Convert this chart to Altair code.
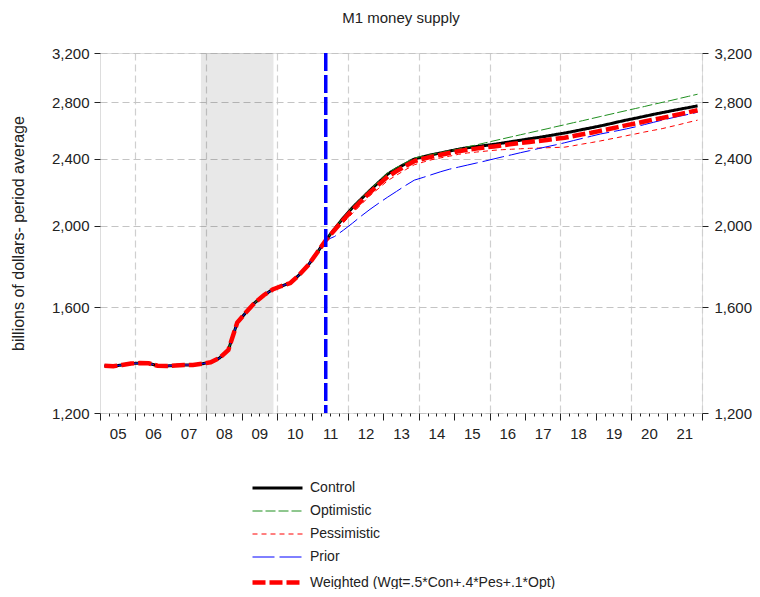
import altair as alt
import pandas as pd

FONT = "Liberation Sans, Arial, sans-serif"

# ---- data (quarterly, 2005Q1 .. 2021Q4) ----
first_year = 2005
history = [1365, 1363, 1368, 1373, 1375, 1374, 1365, 1364, 1366, 1368, 1368, 1372,
           1378, 1394, 1425, 1535, 1579, 1621, 1654, 1680, 1696, 1710, 1748, 1794,
           1856, 1921]
control_fc = [1982, 2043, 2099, 2150, 2201, 2251, 2301, 2335, 2366, 2397, 2412, 2426,
              2437, 2450, 2462, 2472, 2480, 2487, 2495, 2504, 2514, 2523, 2533, 2542,
              2552, 2563, 2573, 2585, 2598, 2610, 2623, 2637, 2652, 2666, 2679, 2693,
              2707, 2720, 2733, 2746, 2758, 2771]
optimistic_fc = [1983, 2045, 2102, 2154, 2206, 2257, 2308, 2342, 2373, 2403, 2417, 2428,
                 2440, 2452, 2464, 2478, 2491, 2505, 2519, 2533, 2547, 2561, 2575, 2589,
                 2603, 2618, 2632, 2647, 2661, 2676, 2691, 2706, 2721, 2736, 2751, 2766,
                 2782, 2797, 2812, 2828, 2844, 2860]
pessimistic_fc = [1967, 2016, 2066, 2118, 2170, 2214, 2260, 2294, 2328, 2360, 2377, 2393,
                  2405, 2416, 2428, 2437, 2443, 2449, 2455, 2459, 2462, 2465, 2468, 2470,
                  2472, 2474, 2476, 2486, 2497, 2507, 2518, 2530, 2542, 2555, 2567, 2580,
                  2592, 2604, 2619, 2634, 2650, 2665]
prior_fc = [1941, 1975, 2012, 2052, 2090, 2126, 2161, 2195, 2230, 2263, 2280, 2298,
            2316, 2332, 2345, 2358, 2371, 2384, 2398, 2412, 2425, 2439, 2452, 2466,
            2479, 2492, 2506, 2521, 2536, 2551, 2566, 2578, 2590, 2603, 2617, 2633,
            2649, 2665, 2680, 2694, 2708, 2723]
weighted_fc = [1976, 2032, 2086, 2138, 2189, 2237, 2285, 2319, 2352, 2383, 2399, 2413,
               2425, 2437, 2449, 2459, 2466, 2474, 2481, 2489, 2497, 2504, 2511, 2518,
               2525, 2533, 2540, 2552, 2564, 2575, 2588, 2601, 2615, 2629, 2641, 2655,
               2669, 2681, 2695, 2709, 2723, 2738]

series_names = ["Control", "Optimistic", "Pessimistic", "Prior",
                "Weighted (Wgt=.5*Con+.4*Pes+.1*Opt)"]
series_colors = ["#000000", "#1f8f1f", "#ff0000", "#0000ff", "#ff0000"]
series_dashes = [[1, 0], [10, 3], [5, 4], [22, 5], [13, 4]]
series_widths = [3, 1, 1, 1, 4.5]

recession_start = [2007.85]
recession_end = [2009.9]
forecast_line = [2011.375]
y_ticks = [1200, 1600, 2000, 2400, 2800, 3200]
y_domain = [1200, 3200]
x_domain = [2005, 2022]

rows = []
for name, fc in zip(series_names,
                    [control_fc, optimistic_fc, pessimistic_fc, prior_fc, weighted_fc]):
    for q, v in enumerate(history + fc):
        rows.append({"t": first_year + 0.125 + 0.25 * q, "v": v, "series": name})
df = pd.DataFrame(rows)

rec_df = pd.DataFrame({"start": recession_start, "end": recession_end,
                       "lo": [y_domain[0]], "hi": [y_domain[1]]})
vline_df = pd.DataFrame({"t": forecast_line})

quarter_ticks = [x_domain[0] + 0.25 * i for i in range(int((x_domain[1] - x_domain[0]) * 4) + 1)]

x_axis = alt.Axis(
    values=quarter_ticks,
    labelExpr="datum.value % 1 == 0.5 ? slice(toString(floor(datum.value)), 2) : ''",
    tickSize={"condition": {"test": "datum.value % 1 == 0", "value": 7}, "value": 3},
    grid=True,
    gridOpacity={"condition": {"test": "datum.value % 2 == 0", "value": 1}, "value": 0},
    gridDash=[7, 4], gridColor="#cfcfcf", gridWidth=1.2,
    title=None, domain=False, tickColor="#222", labelPadding=10,
    labelFont=FONT, labelFontSize=15, labelColor="#222", labelFlush=False,
    labelOverlap=False,
)
x_scale = alt.Scale(domain=x_domain, nice=False, zero=False)
y_scale = alt.Scale(type="log", domain=y_domain, nice=False, zero=False)

left_axis = alt.Axis(values=y_ticks, format=",", title="billions of dollars- period average",
                     grid=True, gridDash=[7, 4], gridColor="#c4c4c4", gridWidth=1.2,
                     tickSize=6, tickColor="#222", domain=False, labelPadding=5,
                     labelFont=FONT, labelFontSize=15, labelColor="#222",
                     titleFont=FONT, titleFontSize=16, titleFontWeight="normal",
                     titleColor="#222", titlePadding=25)
right_axis = alt.Axis(values=y_ticks, format=",", title=None, orient="right", grid=False,
                      tickSize=6, tickColor="#222", domain=False, labelPadding=6,
                      labelFont=FONT, labelFontSize=15, labelColor="#222")

shade = alt.Chart(rec_df).mark_rect(color="#000000", opacity=0.09).encode(
    x=alt.X("start:Q", scale=x_scale, axis=x_axis),
    x2="end:Q",
    y=alt.Y("lo:Q", scale=y_scale, axis=left_axis),
    y2="hi:Q",
)

vline = alt.Chart(vline_df).mark_rule(color="#0000ff", strokeWidth=3.5,
                                      strokeDash=[18, 4]).encode(
    x=alt.X("t:Q", scale=x_scale, axis=x_axis),
)

legend = alt.Legend(orient="none", legendX=170, legendY=428, title=None,
                    symbolType="M-5,0H5", symbolSize=100, labelOffset=25,
                    labelFont=FONT, labelFontSize=14, labelColor="#222", labelLimit=0,
                    rowPadding=9, padding=0)

layers = [shade]
for i, name in enumerate(series_names):
    layer = alt.Chart(df).transform_filter(alt.datum.series == name).mark_line().encode(
        x=alt.X("t:Q", scale=x_scale, axis=x_axis),
        y=alt.Y("v:Q", scale=y_scale, axis=right_axis if i == 0 else None),
        color=alt.Color("series:N", scale=alt.Scale(domain=series_names, range=series_colors),
                        legend=legend, sort=series_names),
        strokeDash=alt.StrokeDash("series:N",
                                  scale=alt.Scale(domain=series_names, range=series_dashes),
                                  legend=legend, sort=series_names),
        strokeWidth=alt.StrokeWidth("series:N",
                                    scale=alt.Scale(type="ordinal", domain=series_names,
                                                    range=series_widths),
                                    legend=legend, sort=series_names),
    )
    layers.append(layer)
layers.append(vline)

chart = alt.layer(*layers).resolve_axis(y="independent").properties(
    width=602, height=360,
    title=alt.TitleParams("M1 money supply", font=FONT, fontSize=15, fontWeight="normal",
                          color="#222", offset=20, anchor="middle"),
    autosize=alt.AutoSizeParams(type="none"),
    padding={"left": 92, "top": 45, "right": 50, "bottom": 176},
).configure_view(stroke="#222", strokeWidth=1.2).configure(background="white")

chart.save("out.html", embed_options={"renderer": "svg", "actions": False})
